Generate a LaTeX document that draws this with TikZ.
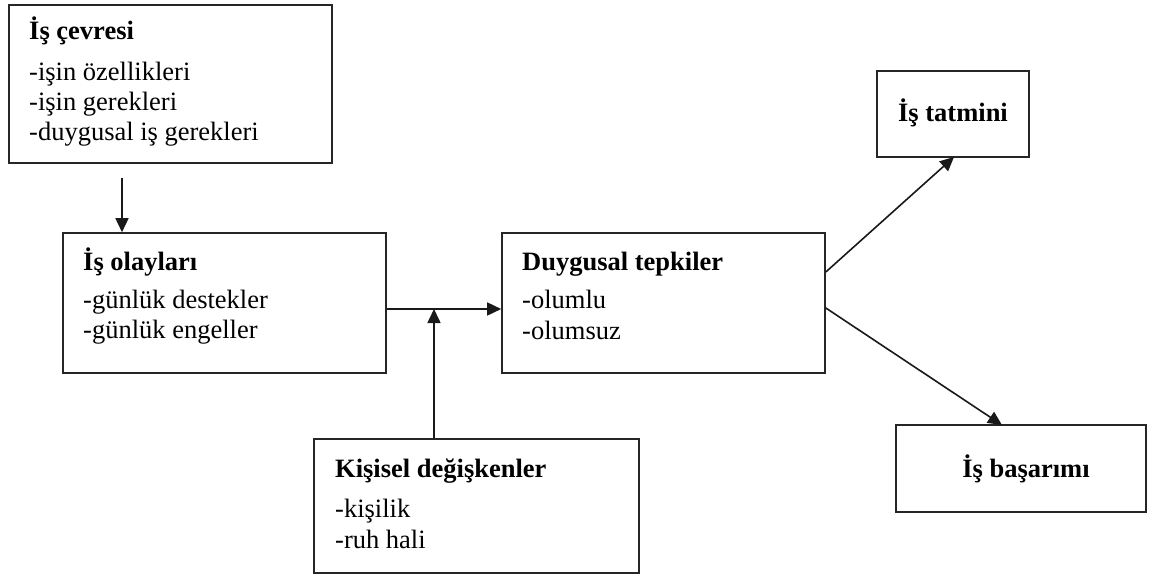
\documentclass[tikz,border=0pt]{standalone}
\usepackage{fontspec}
\setmainfont{Liberation Serif}
\usetikzlibrary{arrows.meta}
\begin{document}
\begin{tikzpicture}[x=1pt,y=-1pt,
  box/.style={draw=black!85, line width=1.6pt, rectangle, inner sep=0pt},
  txt/.style={anchor=base west, inner sep=0pt, font=\fontsize{26.5}{30}\selectfont},
  btxt/.style={txt, font=\fontsize{26.5}{30}\selectfont\bfseries},
  ctxt/.style={anchor=base, inner sep=0pt, font=\fontsize{26.5}{30}\selectfont\bfseries},
  link/.style={draw=black!90, line width=1.6pt, -{Triangle[length=14pt,width=13pt]}}]
\useasboundingbox (0,0) rectangle (1156,583);

% boxes
\node[box, minimum width=323pt, minimum height=158pt] (cevre) at (170.5,84) {};
\node[box, minimum width=323pt, minimum height=140pt] (olay) at (224.5,303) {};
\node[box, minimum width=323pt, minimum height=140pt] (tepki) at (663.5,303) {};
\node[box, minimum width=325pt, minimum height=134pt] (kisi) at (476.5,506) {};
\node[box, minimum width=152pt, minimum height=86pt] (tatmin) at (953,114) {};
\node[box, minimum width=250pt, minimum height=87pt] (basari) at (1021,468.5) {};

% texts
\node[btxt] (cevreT) at (29,40) {İş çevresi};
\node[txt] (cevreA) at (29,81) {-işin özellikleri};
\node[txt] (cevreB) at (29,111) {-işin gerekleri};
\node[txt] (cevreC) at (29,141) {-duygusal iş gerekleri};

\node[btxt] (olayT) at (83,270) {İş olayları};
\node[txt] (olayA) at (83,308) {-günlük destekler};
\node[txt] (olayB) at (83,338) {-günlük engeller};

\node[btxt] (tepkiT) at (522,270) {Duygusal tepkiler};
\node[txt] (tepkiA) at (522,308) {-olumlu};
\node[txt] (tepkiB) at (522,339) {-olumsuz};

\node[btxt] (kisiT) at (335,477) {Kişisel değişkenler};
\node[txt] (kisiA) at (335,517) {-kişilik};
\node[txt] (kisiB) at (335,548) {-ruh hali};

\node[ctxt] (tatminT) at (953,122) {İş tatmini};
\node[ctxt] (basariT) at (1026,477) {İş başarımı};

% connectors
\coordinate (join) at (434,309);
\coordinate (cevreOut) at (122,178);
\coordinate (tatminIn) at (954,157);
\coordinate (basariIn) at (1002,425);
\draw[link] (cevreOut) -- (olay.north -| cevreOut);
\draw[link] (olay.east |- join) -- (tepki.west |- join);
\draw[link] (kisi.north -| join) -- (join);
\draw[link] ([yshift=31pt]tepki.east) -- (tatminIn);
\draw[link] ([yshift=-5pt]tepki.east) -- (basariIn);
\end{tikzpicture}
\end{document}
